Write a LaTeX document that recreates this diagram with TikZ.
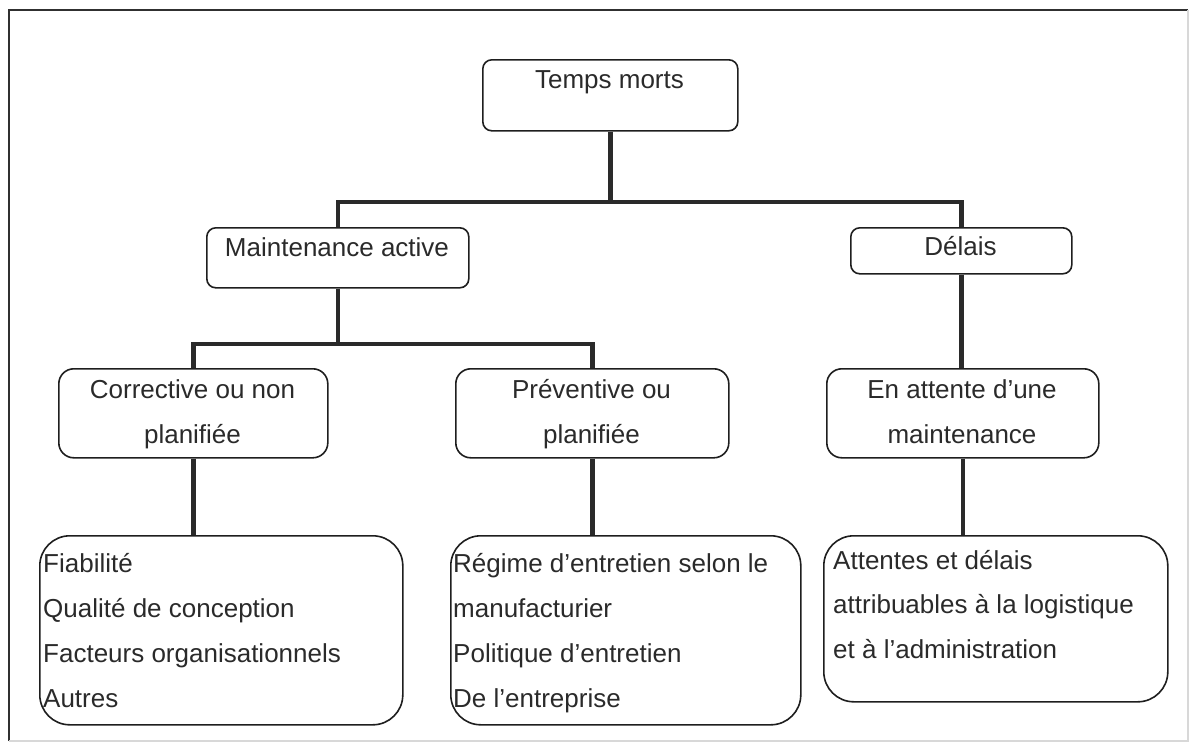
\documentclass[tikz,border=0pt]{standalone}
\usepackage{fontspec}
\setmainfont{Liberation Sans}
\usetikzlibrary{calc}
\definecolor{ink}{HTML}{2A2A2A}
\definecolor{edge}{HTML}{1E1E1E}
\definecolor{frameL}{HTML}{303030}
\definecolor{frameR}{HTML}{D8D8D8}
\tikzset{
  boxsmall/.style={draw=edge, line width=1.6pt, rounded corners=9pt, inner sep=0pt, anchor=north west},
  boxmid/.style={draw=edge, line width=1.6pt, rounded corners=15pt, inner sep=0pt, anchor=north west},
  boxbig/.style={draw=edge, line width=1.6pt, rounded corners=30pt, inner sep=0pt, anchor=north west},
  lbl/.style={text=ink, inner sep=0pt, anchor=base, font=\fontsize{26}{31}\selectfont},
  lblleft/.style={lbl, anchor=base west},
  link/.style={draw=ink, line width=4.5pt, line join=miter},
}
\begin{document}
\begin{tikzpicture}[x=1pt, y=-1pt]
\useasboundingbox (0,0) rectangle (1192,745);

% outer frame
\draw[frameL, line width=1.6pt] (9,741) -- (9,10) -- (1188,10);
\draw[frameR, line width=1.2pt] (1188,10) -- (1188,741) -- (9,741);

% boxes
\node[boxsmall, minimum width=255pt, minimum height=71pt] (tm) at (482,59) {};
\node[boxsmall, minimum width=262pt, minimum height=60pt] (ma) at (206,227) {};
\node[boxsmall, minimum width=221pt, minimum height=46pt] (de) at (850,227) {};
\node[boxmid, minimum width=269pt, minimum height=89pt] (co) at (58,368) {};
\node[boxmid, minimum width=273pt, minimum height=89pt] (pr) at (455,368) {};
\node[boxmid, minimum width=272pt, minimum height=89pt] (ea) at (826,368) {};
\node[boxbig, minimum width=363pt, minimum height=189pt] (lf) at (39,535) {};
\node[boxbig, minimum width=350pt, minimum height=189pt] (mf) at (450,535) {};
\node[boxbig, minimum width=344pt, minimum height=166pt] (rf) at (823,535) {};

% labels
\node[lbl] (tmt) at (609.5,88) {Temps morts};
\node[lbl] (mat) at (337,256) {Maintenance active};
\node[lbl] (det) at (960.5,255) {Délais};
\node[lbl] (cot1) at (192.5,398) {Corrective ou non};
\node[lbl] (cot2) at (192.5,443) {planifiée};
\node[lbl] (prt1) at (591.5,398) {Préventive ou};
\node[lbl] (prt2) at (591.5,443) {planifiée};
\node[lbl] (eat1) at (962,398) {En attente d’une};
\node[lbl] (eat2) at (962,443) {maintenance};

\node[lblleft] (lf1) at (43,572) {Fiabilité};
\node[lblleft] (lf2) at (43,617) {Qualité de conception};
\node[lblleft] (lf3) at (43,662) {Facteurs organisationnels};
\node[lblleft] (lf4) at (43,707) {Autres};

\node[lblleft] (mf1) at (453,572) {Régime d’entretien selon le};
\node[lblleft] (mf2) at (453,617) {manufacturier};
\node[lblleft] (mf3) at (453,662) {Politique d’entretien};
\node[lblleft] (mf4) at (453,707) {De l’entreprise};

\node[lblleft] (rf1) at (833,569) {Attentes et délais};
\node[lblleft] (rf2) at (833,613) {attribuables à la logistique};
\node[lblleft] (rf3) at (833,658) {et à l’administration};

% connectors
\coordinate (bar1) at (0,202);
\coordinate (bar2) at (0,344);
\draw[link] (tm.south) -- (tm.south |- bar1);
\draw[link] (ma.north) -- (ma.north |- bar1) -- (de.north |- bar1) -- (de.north);
\draw[link] (ma.south) -- (ma.south |- bar2);
\draw[link] (co.north) -- (co.north |- bar2) -- (pr.north |- bar2) -- (pr.north);
\draw[link] (de.south) -- (de.south |- ea.north);
\draw[link] (co.south) -- (co.south |- lf.north);
\draw[link] (pr.south) -- (pr.south |- mf.north);
\draw[link] (ea.south) -- (ea.south |- rf.north);
\end{tikzpicture}
\end{document}
